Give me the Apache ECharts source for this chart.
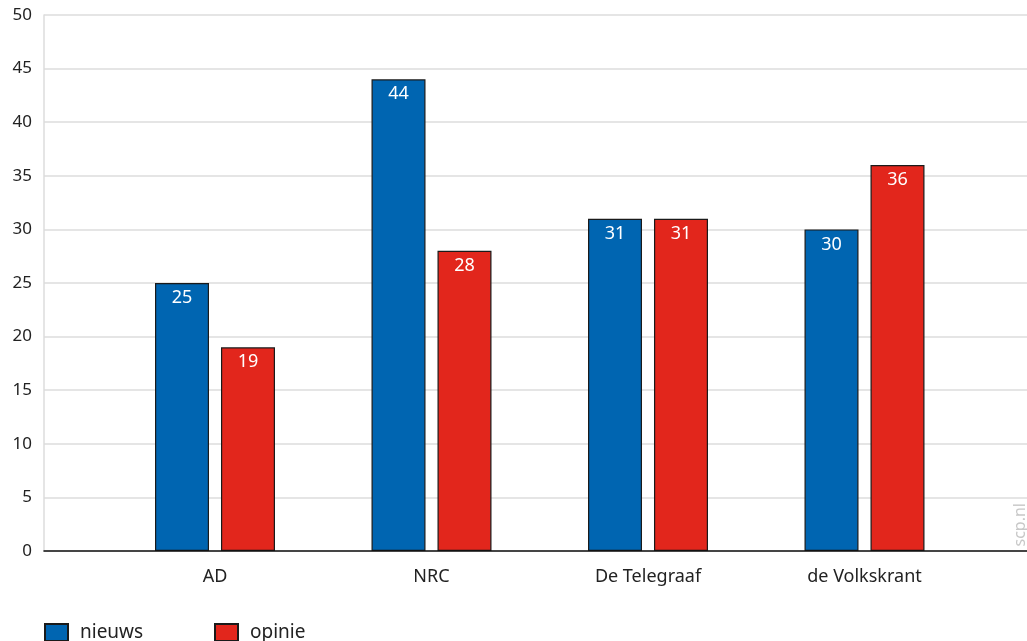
<!DOCTYPE html>
<html>
<head>
<meta charset="utf-8">
<script src="https://cdn.jsdelivr.net/npm/echarts@6/dist/echarts.min.js"></script>
<style>
html,body{margin:0;padding:0;background:#fff;}
#chart{width:1027px;height:641px;}
</style>
</head>
<body>
<div id="chart"></div>
<script>
const categories = ['AD', 'NRC', 'De Telegraaf', 'de Volkskrant'];
const nieuws = [25, 44, 31, 30];
const opinie = [19, 28, 31, 36];
const yTicks = { min: 0, max: 50, interval: 5 };

const FONT = 'Noto Sans';
const chart = echarts.init(document.getElementById('chart'));
const barBorder = { borderColor: '#1a1a1a', borderWidth: 1.2 };
const labelStyle = {
  show: true, position: 'insideTop', distance: 6,
  color: '#fff', fontFamily: FONT, fontSize: 18,
  formatter: p => Math.round(p.value)
};
const legendText = { fontFamily: FONT, fontSize: 19, color: '#222', lineHeight: 17, padding: [0, 0, 0, 7] };
chart.setOption({
  animation: false,
  grid: [
    { left: 44, right: 0, top: 15, bottom: 90 },
    { left: 106.75, width: 866, top: 15, bottom: 90 }
  ],
  xAxis: [
    { gridIndex: 0, type: 'value', min: 0, max: 1,
      axisLine: { show: true, lineStyle: { color: '#111', width: 1.5 } },
      axisTick: { show: false }, axisLabel: { show: false }, splitLine: { show: false }, z: 5 },
    { gridIndex: 1, type: 'category', data: categories,
      axisLine: { show: false }, axisTick: { show: false },
      axisLabel: { color: '#222', fontFamily: FONT, fontSize: 18, margin: 17 } }
  ],
  yAxis: [
    { gridIndex: 0, type: 'value', min: yTicks.min, max: yTicks.max, interval: yTicks.interval,
      axisLine: { show: true, lineStyle: { color: '#dcdcdc', width: 1.5 } },
      axisTick: { show: false },
      axisLabel: { color: '#222', fontFamily: FONT, fontSize: 17, margin: 12 },
      splitLine: { lineStyle: { color: '#dcdcdc', width: 1.5 } } },
    { gridIndex: 1, type: 'value', min: yTicks.min, max: yTicks.max, interval: yTicks.interval,
      show: false, splitLine: { show: false } }
  ],
  legend: [
    { left: 44, top: 623, padding: 0, icon: 'rect', itemWidth: 23, itemHeight: 17, itemGap: 0,
      data: ['nieuws'], textStyle: legendText },
    { left: 214, top: 623, padding: 0, icon: 'rect', itemWidth: 23, itemHeight: 17, itemGap: 0,
      data: ['opinie'], textStyle: legendText }
  ],
  graphic: [
    { type: 'text', left: 1012, top: 503, rotation: Math.PI / 2,
      style: { text: 'scp.nl', fill: '#c8c8c8', font: '16px "Noto Sans"' } }
  ],
  series: [
    { name: 'nieuws', type: 'bar', xAxisIndex: 1, yAxisIndex: 1, data: nieuws,
      barWidth: 54, barGap: '22.2%',
      itemStyle: Object.assign({ color: '#0065b1' }, barBorder), label: labelStyle },
    { name: 'opinie', type: 'bar', xAxisIndex: 1, yAxisIndex: 1, data: opinie,
      barWidth: 54, barGap: '22.2%',
      itemStyle: Object.assign({ color: '#e2261c' }, barBorder), label: labelStyle }
  ]
});
</script>
</body>
</html>
